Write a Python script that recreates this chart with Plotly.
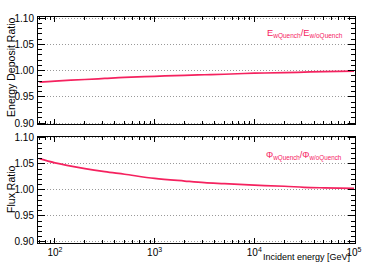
import plotly.graph_objects as go
from plotly.subplots import make_subplots

energy = [70, 100, 200, 316, 500, 1000, 2000, 3162, 5000, 10000, 20000, 31623, 50000, 100000]
edep_ratio = [0.978, 0.980, 0.983, 0.985, 0.987, 0.989, 0.991, 0.992, 0.993, 0.995, 0.996, 0.997, 0.998, 0.999]
flux_ratio = [1.060, 1.052, 1.041, 1.035, 1.030, 1.022, 1.017, 1.014, 1.012, 1.009, 1.007, 1.005, 1.004, 1.003]

x_tickvals = [100, 1000, 10000, 100000]
x_ticktext = ["10<sup>2</sup>", "10<sup>3</sup>", "10<sup>4</sup>", "10<sup>5</sup>"]
y_tickvals = [0.90, 0.95, 1.00, 1.05, 1.10]

red = "#f5225f"
font = "Liberation Sans, Arial, sans-serif"

fig = make_subplots(rows=2, cols=1, shared_xaxes=False, vertical_spacing=0.0)
fig.add_trace(go.Scatter(x=energy, y=edep_ratio, mode="lines", line=dict(color=red, width=1.7, shape="spline"), showlegend=False), row=1, col=1)
fig.add_trace(go.Scatter(x=energy, y=flux_ratio, mode="lines", line=dict(color=red, width=1.7, shape="spline"), showlegend=False), row=2, col=1)

minor_x = [v * m for v in [10, 100, 1000, 10000] for m in range(2, 10) if 68 <= v * m <= 100000]
xcommon = dict(type="log", range=[1.83, 5.01], showline=True, linecolor="black", linewidth=1, mirror="allticks",
               ticks="inside", ticklen=5, tickcolor="black", showgrid=False, zeroline=False,
               tickvals=x_tickvals,
               minor=dict(ticks="inside", ticklen=3, tickcolor="black", tickvals=minor_x),
               tickfont=dict(family=font, size=10, color="black"))
ycommon = dict(range=[0.898, 1.102], showline=True, linecolor="black", linewidth=1, mirror="allticks",
               ticks="inside", ticklen=7, tickcolor="black", tickvals=y_tickvals, tickformat=".2f",
               showgrid=True, gridcolor="#999999", griddash="1px,2px", gridwidth=1, zeroline=False,
               minor=dict(ticks="inside", ticklen=4, tickcolor="black", dtick=0.01, showgrid=False),
               ticklabelstandoff=1,
               tickfont=dict(family=font, size=10, color="black"))

fig.update_xaxes(**xcommon, showticklabels=False, row=1, col=1)
fig.update_xaxes(**xcommon, ticktext=x_ticktext, showticklabels=True, row=2, col=1)
fig.update_yaxes(**ycommon, row=1, col=1)
fig.update_yaxes(**ycommon, row=2, col=1)

fig.update_layout(
    width=374, height=270,
    margin=dict(l=38, r=19, t=17, b=23),
    paper_bgcolor="white", plot_bgcolor="white",
    font=dict(family=font, color="black"),
)
fig.layout.yaxis.domain = [0.526, 1.0]
fig.layout.yaxis2.domain = [0.0, 0.47]

annotations = [
    dict(text="Energy Deposit Ratio", xref="paper", yref="paper", x=-0.085, y=0.775, textangle=-90,
         showarrow=False, xanchor="center", yanchor="middle", font=dict(family=font, size=10.5, color="black")),
    dict(text="Flux Ratio", xref="paper", yref="paper", x=-0.085, y=0.235, textangle=-90,
         showarrow=False, xanchor="center", yanchor="middle", font=dict(family=font, size=10.5, color="black")),
    dict(text="Incident energy [GeV]", xref="paper", yref="paper", x=0.99, y=-0.06, xanchor="right", yanchor="middle",
         showarrow=False, font=dict(family=font, size=9, color="black")),
    dict(text="E<sub>wQuench</sub>/E<sub>w/oQuench</sub>", xref="paper", yref="paper", x=0.968, y=0.926,
         xanchor="right", yanchor="middle", showarrow=False, font=dict(family=font, size=9.3, color=red)),
    dict(text="Φ<sub>wQuench</sub>/Φ<sub>w/oQuench</sub>", xref="paper", yref="paper", x=0.965, y=0.387,
         xanchor="right", yanchor="middle", showarrow=False, font=dict(family=font, size=9, color=red)),
]
fig.update_layout(annotations=annotations)

fig.write_html("out.html", config={"displayModeBar": False},
               post_script="document.body.style.margin='0';document.body.style.overflow='hidden';")
